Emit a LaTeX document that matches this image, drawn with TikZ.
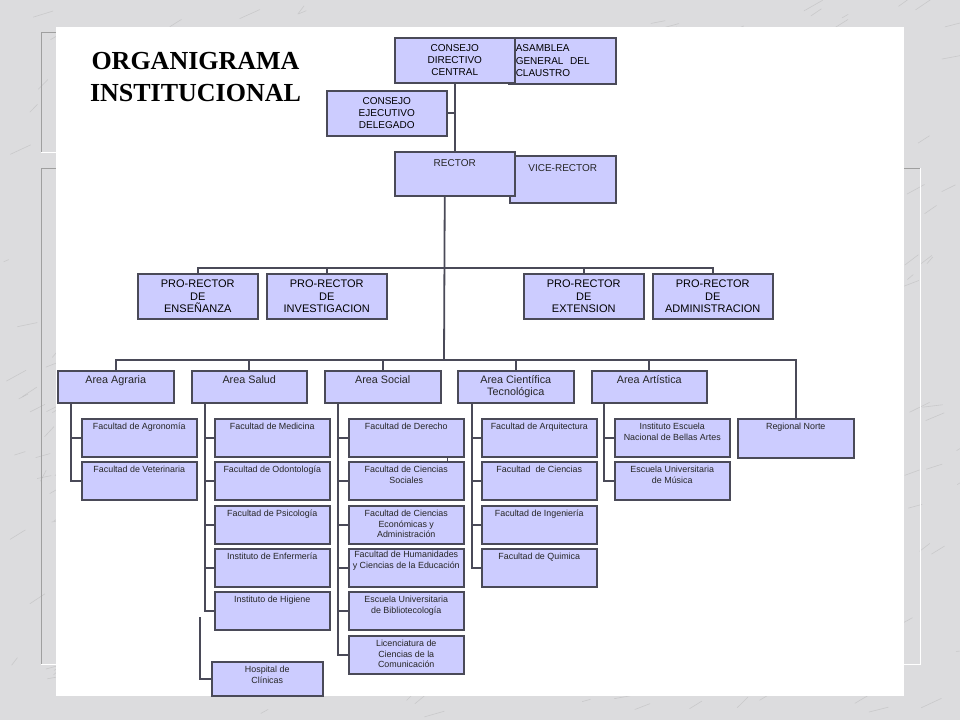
\documentclass[tikz,border=0pt]{standalone}
\usepackage{fontspec}
\setmainfont{Liberation Sans}
\newfontfamily\titlefont{Liberation Serif}
\usepackage{xcolor}
\usepackage{tikz}
\definecolor{boxfill}{RGB}{204,204,255}
\definecolor{boxline}{RGB}{74,74,88}
\definecolor{marble}{RGB}{220,220,222}
\tikzset{
box/.style = {rectangle, draw=boxline, fill=boxfill, line width=1.5pt, anchor=north west, inner sep=0pt, minimum width = #1},
box/.default = 115pt, % width of a faculty box
link/.style = {draw=boxline, line width=1.8pt},
txt/.style = {anchor=north, inner sep=5pt, align=center, text=black!85, font=\fontsize{8.9}{10.5}\selectfont},
big/.style = {align=center, font=\fontsize{10}{12.3}\selectfont},
pro/.style = {align=center, font=\fontsize{11}{12.5}\selectfont},
area/.style = {txt, inner sep=5pt, font=\fontsize{10.8}{12.7}\selectfont},
}

\begin{document}
\begin{tikzpicture}[x=1pt, y=-1pt]
    \useasboundingbox (0,0) rectangle (960,720);
    % marble and the slide frames behind the panel
    \fill[marble] (0,0) rectangle (960,720);
    \pgfmathsetseed{12}
    \foreach \i in {1,...,420} {
        \pgfmathsetmacro{\px}{rnd*960}
        \pgfmathsetmacro{\py}{rnd*720}
        \draw[gray!70, line width=0.6pt, opacity=0.35] (\px,\py) -- ++(5+rnd*16,-2-rnd*9);
    }
    \draw[gray!75] (56,32) -- (41,32) -- (41,152);
    \draw[white] (41,152) -- (56,152);
    \draw[gray!75] (920,168) -- (41,168) -- (41,664);
    \draw[white] (41,664) -- (920,664) -- (920,168);
    \fill[white] (56,27) rectangle (904,696);

    \node[font=\titlefont\bfseries\fontsize{26}{32}\selectfont, align=center, anchor=north, inner sep=0pt] (title) at (195.5,52) {ORGANIGRAMA\\INSTITUCIONAL};

    % top of the chart
    \node[box=107pt, minimum height=46pt, big, align=left, text width=93pt] (asamblea) at (508,37) {ASAMBLEA\\GENERAL\ \ DEL\\CLAUSTRO};
    \node[box=120pt, minimum height=45pt, big] (consejo) at (394,37) {CONSEJO\\DIRECTIVO\\CENTRAL};
    \node[box=120pt, minimum height=45pt, big] (ejecutivo) at (326,90) {CONSEJO\\EJECUTIVO\\DELEGADO};
    \node[box=106pt, minimum height=47pt, label={[txt, big, inner sep=9pt]north:VICE-RECTOR}] (vice) at (509,155) {};
    \node[box=120pt, minimum height=44pt, label={[txt, big, inner sep=8pt]north:RECTOR}] (rector) at (394,151) {};

    \node[box=120pt, minimum height=45pt, pro] (ensenanza) at (137,273) {PRO-RECTOR\\DE\\ENSEÑANZA};
    \node[box=120pt, minimum height=45pt, pro] (investigacion) at (266,273) {PRO-RECTOR\\DE\\INVESTIGACION};
    \node[box=120pt, minimum height=45pt, pro] (extension) at (523,273) {PRO-RECTOR\\DE\\EXTENSION};
    \node[box=120pt, minimum height=45pt, pro] (administracion) at (652,273) {PRO-RECTOR\\DE\\ADMINISTRACION};

    % areas
    \node[box=116pt, minimum height=32pt, label={[area]north:Area Agraria}] (agraria) at (57,370) {};
    \node[box=115pt, minimum height=32pt, label={[area]north:Area Salud}] (salud) at (191,370) {};
    \node[box=116pt, minimum height=32pt, label={[area]north:Area Social}] (social) at (324,370) {};
    \node[box=116pt, minimum height=32pt, label={[area]north:Area Científica\\Tecnológica}] (cientifica) at (457,370) {};
    \node[box=115pt, minimum height=32pt, label={[area]north:Area Artística}] (artistica) at (591,370) {};
    \node[box=116pt, minimum height=39pt, label={[txt]north:Regional Norte}] (norte) at (737,418) {};

    % faculties
    \node[box, minimum height=38pt, label={[txt]north:Facultad de Agronomía}] (agronomia) at (81,418) {};
    \node[box, minimum height=38pt, label={[txt]north:Facultad de Veterinaria}] (veterinaria) at (81,461) {};

    \node[box, minimum height=38pt, label={[txt]north:Facultad de Medicina}] (medicina) at (214,418) {};
    \node[box, minimum height=38pt, label={[txt]north:Facultad de Odontología}] (odontologia) at (214,461) {};
    \node[box, minimum height=38pt, label={[txt]north:Facultad de Psicología}] (psicologia) at (214,505) {};
    \node[box, minimum height=38pt, label={[txt]north:Instituto de Enfermería}] (enfermeria) at (214,548) {};
    \node[box, minimum height=38pt, label={[txt]north:Instituto de Higiene}] (higiene) at (214,591) {};
    \node[box=111pt, minimum height=34pt, label={[txt]north:Hospital de\\Clínicas}] (hospital) at (211,661) {};

    \node[box, minimum height=38pt, label={[txt]north:Facultad de Derecho}] (derecho) at (348,418) {};
    \node[box, minimum height=38pt, label={[txt]north:Facultad de Ciencias\\Sociales}] (sociales) at (348,461) {};
    \node[box, minimum height=38pt, label={[txt]north:Facultad de Ciencias\\Económicas y\\Administración}] (economicas) at (348,505) {};
    \node[box, minimum height=38pt, label={[txt, inner sep=3pt]north:Facultad de Humanidades\\y Ciencias de la Educación}] (humanidades) at (348,548) {};
    \node[box, minimum height=38pt, label={[txt]north:Escuela Universitaria\\de Bibliotecología}] (biblio) at (348,591) {};
    \node[box, minimum height=38pt, label={[txt]north:Licenciatura de\\Ciencias de la\\Comunicación}] (comunicacion) at (348,635) {};

    \node[box, minimum height=38pt, label={[txt]north:Facultad de Arquitectura}] (arquitectura) at (481,418) {};
    \node[box, minimum height=38pt, label={[txt]north:Facultad\ \ de Ciencias}] (ciencias) at (481,461) {};
    \node[box, minimum height=38pt, label={[txt]north:Facultad de Ingeniería}] (ingenieria) at (481,505) {};
    \node[box, minimum height=38pt, label={[txt]north:Facultad de Quimica}] (quimica) at (481,548) {};

    \node[box, minimum height=38pt, label={[txt]north:Instituto Escuela\\Nacional de Bellas Artes}] (bellasartes) at (614,418) {};
    \node[box, minimum height=38pt, label={[txt]north:Escuela Universitaria\\de Música}] (musica) at (614,461) {};

    % connectors
    \coordinate (probus) at (444,268);
    \coordinate (trunk) at (444,360);
    \draw[link] (consejo.south) -- (rector.north);
    \draw[link] (ejecutivo.east) -- (ejecutivo.east -| consejo.south);
    \draw[link] ([xshift=-10pt]rector.south) -- (trunk);
    \draw[link] (ensenanza.north) |- (probus) -| (administracion.north);
    \draw[link] (investigacion.north) -- (investigacion.north |- probus);
    \draw[link] (extension.north) -- (extension.north |- probus);
    \draw[link] (agraria.north) |- (trunk) -| (norte.north);
    \draw[link] (salud.north) -- (salud.north |- trunk);
    \draw[link] (social.north) -- (social.north |- trunk);
    \draw[link] (cientifica.north) -- (cientifica.north |- trunk);
    \draw[link] (artistica.north) -- (artistica.north |- trunk);

    \coordinate (colagr) at ([xshift=14pt]agraria.south west);
    \coordinate (colsal) at ([xshift=14pt]salud.south west);
    \coordinate (colsoc) at ([xshift=14pt]social.south west);
    \coordinate (colcie) at ([xshift=15pt]cientifica.south west);
    \coordinate (colart) at ([xshift=13pt]artistica.south west);
    \coordinate (hosptop) at (200,617);

    \draw[link] (colagr) |- (veterinaria.west);
    \draw[link] (agronomia.west) -- (agronomia.west -| colagr);
    \draw[link] (colsal) |- (higiene.west);
    \draw[link] (medicina.west) -- (medicina.west -| colsal);
    \draw[link] (odontologia.west) -- (odontologia.west -| colsal);
    \draw[link] (psicologia.west) -- (psicologia.west -| colsal);
    \draw[link] (enfermeria.west) -- (enfermeria.west -| colsal);
    \draw[link] (hosptop) |- (hospital.west);
    \draw[link] (colsoc) |- (comunicacion.west);
    \draw[link] (derecho.west) -- (derecho.west -| colsoc);
    \draw[link] (sociales.west) -- (sociales.west -| colsoc);
    \draw[link] (economicas.west) -- (economicas.west -| colsoc);
    \draw[link] (humanidades.west) -- (humanidades.west -| colsoc);
    \draw[link] (biblio.west) -- (biblio.west -| colsoc);
    \draw[link] ([xshift=-17pt]derecho.south east) -- ([xshift=-17pt]sociales.north east);
    \draw[link] (colcie) |- (quimica.west);
    \draw[link] (arquitectura.west) -- (arquitectura.west -| colcie);
    \draw[link] (ciencias.west) -- (ciencias.west -| colcie);
    \draw[link] (ingenieria.west) -- (ingenieria.west -| colcie);
    \draw[link] (colart) |- (musica.west);
    \draw[link] (bellasartes.west) -- (bellasartes.west -| colart);
\end{tikzpicture}
\end{document}
